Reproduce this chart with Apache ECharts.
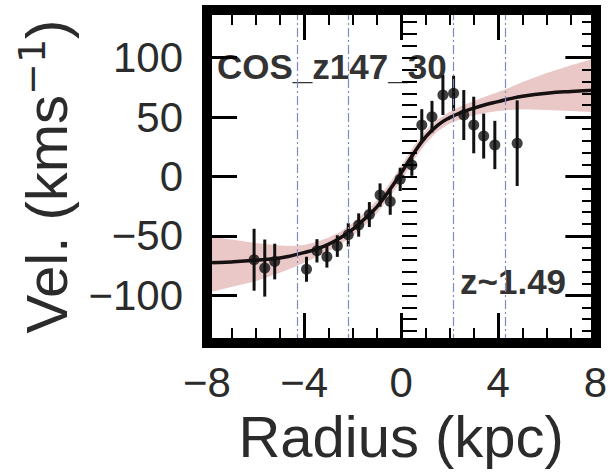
<!DOCTYPE html>
<html>
<head>
<meta charset="utf-8">
<script src="https://cdn.jsdelivr.net/npm/echarts@6/dist/echarts.min.js"></script>
<style>
html,body{margin:0;padding:0;background:#fff;}
#c{width:610px;height:475px;}
</style>
</head>
<body>
<div id="c"></div>
<script>
// ---- data ----
const radius = [-6.06,-5.62,-5.21,-3.90,-3.47,-3.06,-2.63,-2.18,-1.75,-1.31,-0.87,-0.45,-0.04,0.44,0.85,1.27,1.72,2.16,2.58,2.99,3.40,3.86,4.78];
const vel    = [-70,-77,-71.5,-78,-62.5,-67.5,-58.5,-49,-40.8,-32,-15.6,-21,-2.4,9.7,43.3,50.3,68.5,70,51.7,43.3,34,26.5,28];
const velErr = [26,24,15,10.5,9.8,9.1,9.1,9.8,9.8,10.5,9.8,11.2,9.8,9.1,13.3,13.3,16.8,14.7,21,23.8,18.9,20.3,36];

const modelR  = [-8,-7,-6,-5,-4.5,-4,-3.5,-3,-2.5,-2,-1.5,-1,-0.5,0,0.5,1,1.5,2,2.5,3,3.5,4,4.5,5,6,7,8];
const modelV  = [-72.5,-71.8,-70.5,-68.5,-66.5,-64,-61,-57,-51.5,-44.5,-35.5,-25.5,-12,3,19,33,43,49.5,54,57.5,60.5,63,65.5,67.5,70,71.5,72.5];
const bandLo  = [-98,-93,-88,-81,-77,-72.5,-68,-63,-57,-50,-41,-31,-18,-3.5,13,27.5,38,44.5,48.5,51.5,53.5,55,56,56.5,56,55,54];
const bandHi  = [-50,-53,-56,-58,-58.5,-57.5,-55,-51.5,-46.5,-39,-30,-20,-6.5,9,25,38.5,48,54.5,59.5,63.5,67.5,71,75,79.5,87,93.5,99.5];

const vLines = [-4.3,-2.2,2.15,4.3];
const xTicks = [-8,-4,0,4,8];
const yTicks = [-100,-50,0,50,100];
const galaxyName = 'COS_z147_30';
const redshiftText = 'z~1.49';

// ---- chart ----
const FONT = '"Liberation Sans", Arial, sans-serif';
const TXT = '#2b2b2b';
const fmt = v => (v < 0 ? '\u2212' + (-v) : String(v));
const borderLine = {show:true, onZero:false, lineStyle:{color:'#000', width:10, cap:'square'}};
const gridPos = {left:207, right:13, top:10, bottom:132};

const chart = echarts.init(document.getElementById('c'), null, {renderer:'svg'});
chart.setOption({
  animation:false,
  backgroundColor:'#fff',
  grid:[Object.assign({}, gridPos), Object.assign({}, gridPos)],
  xAxis:[
    {gridIndex:0, type:'value', position:'bottom', min:-8, max:8, interval:4, z:10,
     axisLine:borderLine,
     axisTick:{inside:true, length:30, lineStyle:{color:'#000', width:3}},
     minorTick:{show:true, splitNumber:4, length:15, lineStyle:{color:'#000', width:2}},
     splitLine:{show:false},
     axisLabel:{customValues:xTicks, formatter:fmt, fontSize:42, fontFamily:FONT, color:TXT, margin:18},
     name:'Radius (kpc)', nameLocation:'middle', nameGap:60,
     nameTextStyle:{fontSize:58, fontFamily:FONT, color:TXT, lineHeight:58}},
    {gridIndex:0, type:'value', position:'top', min:-8, max:8, interval:4, z:10,
     axisLine:borderLine,
     axisTick:{inside:true, length:30, lineStyle:{color:'#000', width:3}},
     minorTick:{show:true, splitNumber:4, length:15, lineStyle:{color:'#000', width:2}},
     splitLine:{show:false}, axisLabel:{show:false}},
    {gridIndex:1, type:'value', min:-8, max:8, show:false}
  ],
  yAxis:[
    {gridIndex:0, type:'value', position:'left', min:-140, max:140, z:10,
     axisLine:borderLine,
     axisTick:{inside:true, length:30, customValues:yTicks, lineStyle:{color:'#000', width:3}},
     splitLine:{show:false},
     axisLabel:{customValues:yTicks, formatter:fmt, fontSize:42, fontFamily:FONT, color:TXT, margin:24},
     name:'{a|Vel. (kms}{b|\u22121}{a|)}', nameLocation:'middle', nameGap:128, nameRotate:90,
     nameTextStyle:{fontFamily:FONT, color:TXT,
       rich:{a:{fontSize:58, fontFamily:FONT, color:TXT, lineHeight:66},
             b:{fontSize:38, fontFamily:'"DejaVu Sans", sans-serif', color:TXT, lineHeight:44, verticalAlign:'top'}}}},
    {gridIndex:0, type:'value', position:'right', min:-140, max:140, z:10,
     axisLine:borderLine,
     axisTick:{inside:true, length:30, customValues:yTicks, lineStyle:{color:'#000', width:3}},
     splitLine:{show:false}, axisLabel:{show:false}},
    {gridIndex:1, type:'value', position:'left', min:-140, max:140, interval:10, z:10,
     axisLine:{show:false},
     axisTick:{inside:true, length:15, lineStyle:{color:'#000', width:2}},
     splitLine:{show:false}, axisLabel:{show:false}},
    {gridIndex:1, type:'value', position:'right', min:-140, max:140, interval:10, z:10,
     axisLine:{show:false},
     axisTick:{inside:true, length:15, lineStyle:{color:'#000', width:2}},
     splitLine:{show:false}, axisLabel:{show:false}}
  ],
  graphic:[
    {type:'text', z:1, style:{text:galaxyName, x:217, y:66, verticalAlign:'middle', align:'left',
      font:'bold 35px ' + FONT, fill:'#333'}},
    {type:'text', z:1, style:{text:redshiftText, x:460, y:281, verticalAlign:'middle', align:'left',
      font:'bold 35px ' + FONT, fill:'#333'}}
  ],
  series:[
    {type:'custom', xAxisIndex:0, yAxisIndex:0, z:1, silent:true,
     data: modelR.map((r,i)=>[r, bandLo[i], bandHi[i]]),
     encode:{x:0, y:[1,2]},
     renderItem:(params, api)=>{
       if (params.dataIndex !== 0) return null;
       const up = modelR.map((r,i)=>api.coord([r, bandHi[i]]));
       const dn = modelR.map((r,i)=>api.coord([r, bandLo[i]])).reverse();
       return {type:'polygon', shape:{points:up.concat(dn)}, style:{fill:'rgba(200,110,110,0.38)'}};
     }},
    {type:'line', xAxisIndex:0, yAxisIndex:0, z:3, smooth:true, showSymbol:false, silent:true,
     data: modelR.map((r,i)=>[r, modelV[i]]),
     lineStyle:{color:'#161010', width:3.5},
     markLine:{silent:true, symbol:['none','none'], label:{show:false},
       lineStyle:{type:[9,3,2,3], color:'#7c8cbc', width:1.2},
       data: vLines.map(v=>({xAxis:v}))}},
    {type:'custom', xAxisIndex:0, yAxisIndex:0, z:4, silent:true,
     data: radius.map((r,i)=>[r, vel[i]-velErr[i], vel[i]+velErr[i]]),
     encode:{x:0, y:[1,2]},
     renderItem:(params, api)=>{
       const p1 = api.coord([api.value(0), api.value(1)]);
       const p2 = api.coord([api.value(0), api.value(2)]);
       return {type:'line', shape:{x1:p1[0], y1:p1[1], x2:p2[0], y2:p2[1]},
               style:{stroke:'#111', lineWidth:3}};
     }},
    {type:'scatter', xAxisIndex:0, yAxisIndex:0, z:5, silent:true, symbolSize:11,
     itemStyle:{color:'#111'},
     data: radius.map((r,i)=>[r, vel[i]])}
  ]
});
</script>
</body>
</html>
